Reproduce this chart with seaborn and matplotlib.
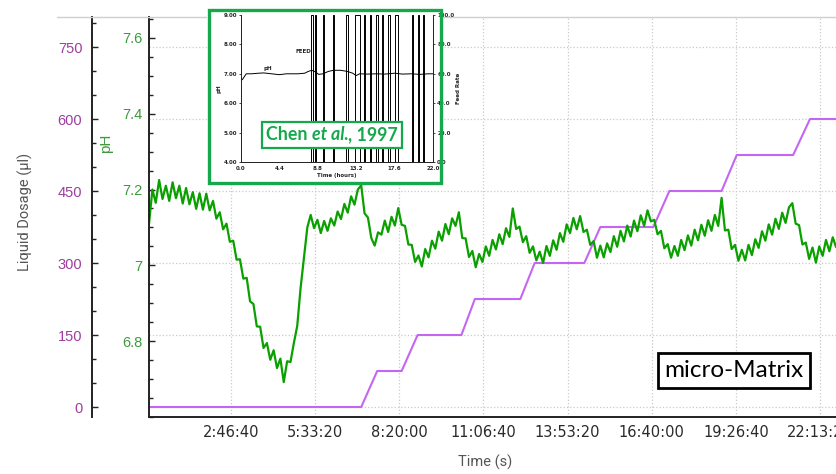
import numpy as np
import pandas as pd
import matplotlib
matplotlib.use("Agg")
import matplotlib.pyplot as plt
import seaborn as sns
from matplotlib.ticker import MultipleLocator, FixedLocator, FuncFormatter
from matplotlib.patches import Rectangle
from matplotlib.lines import Line2D
from matplotlib.offsetbox import TextArea, HPacker, AnnotationBbox

# pH log, one reading every 400 s starting at t = 300 s
PH_START_S = 300
PH_STEP_S = 400
ph_values = [
    7.110, 7.200, 7.165, 7.225, 7.175, 7.210, 7.170, 7.219, 7.177, 7.210,
    7.163, 7.204, 7.161, 7.193, 7.149, 7.190, 7.147, 7.189, 7.145, 7.170,
    7.123, 7.140, 7.095, 7.110, 7.062, 7.065, 7.015, 7.016, 6.965, 6.967,
    6.905, 6.898, 6.839, 6.838, 6.782, 6.795, 6.751, 6.776, 6.729, 6.754,
    6.692, 6.747, 6.745, 6.795, 6.840, 6.940, 7.020, 7.100, 7.133, 7.098,
    7.120, 7.085, 7.117, 7.091, 7.124, 7.105, 7.142, 7.122, 7.162, 7.139,
    7.182, 7.160, 7.200, 7.211, 7.137, 7.126, 7.072, 7.052, 7.087, 7.081,
    7.118, 7.088, 7.128, 7.105, 7.151, 7.107, 7.104, 7.055, 7.054, 7.009,
    7.026, 6.997, 7.043, 7.021, 7.065, 7.044, 7.089, 7.065, 7.109, 7.082,
    7.124, 7.104, 7.140, 7.072, 7.071, 7.022, 7.038, 6.995, 7.030, 7.009,
    7.050, 7.025, 7.067, 7.042, 7.082, 7.056, 7.098, 7.075, 7.150, 7.096,
    7.102, 7.061, 7.077, 7.033, 7.050, 7.013, 7.036, 7.006, 7.051, 7.025,
    7.066, 7.041, 7.085, 7.062, 7.108, 7.085, 7.125, 7.095, 7.130, 7.088,
    7.094, 7.054, 7.064, 7.020, 7.052, 7.021, 7.058, 7.035, 7.077, 7.049,
    7.091, 7.063, 7.105, 7.076, 7.118, 7.090, 7.132, 7.104, 7.145, 7.116,
    7.120, 7.082, 7.091, 7.045, 7.056, 7.020, 7.051, 7.025, 7.067, 7.040,
    7.079, 7.052, 7.094, 7.066, 7.107, 7.078, 7.119, 7.091, 7.133, 7.104,
    7.178, 7.092, 7.094, 7.043, 7.054, 7.012, 7.041, 7.013, 7.054, 7.027,
    7.069, 7.046, 7.090, 7.065, 7.108, 7.081, 7.123, 7.096, 7.139, 7.112,
    7.153, 7.164, 7.110, 7.106, 7.055, 7.060, 7.017, 7.047, 7.007, 7.050,
    7.025, 7.067, 7.037, 7.074, 7.048,
]

# cumulative liquid dosage (ul)
dose_time_s = [300, 25500, 27400, 30300, 32200, 37400, 39000, 44400, 46100,
               52000, 53900, 60200, 62100, 68300, 70100, 76800, 78800, 82000]
dose_ul = [0, 0, 75, 75, 150, 150, 225, 225, 300,
           300, 375, 375, 450, 450, 525, 525, 600, 600]

time_ticks_s = [10000, 20000, 30000, 40000, 50000, 60000, 70000, 80000]
ph_ticks = [6.8, 7.0, 7.2, 7.4, 7.6]
dose_ticks = [0, 150, 300, 450, 600, 750]

# inset: Chen et al., 1997
inset_hours = [0.0, 0.15, 0.6, 1.2, 2.0, 2.6, 3.5, 4.4, 5.2, 6.5, 7.3, 7.7, 8.1, 8.5,
               8.9, 9.4, 10.0, 10.6, 11.4, 12.2, 12.8, 13.2, 13.6, 14.5, 15.5, 16.5,
               17.6, 18.5, 19.5, 20.5, 21.5, 22.0]
inset_ph = [6.80, 6.80, 7.00, 7.00, 7.02, 7.03, 7.00, 6.97, 7.00, 7.00, 7.02, 7.08, 7.12, 7.07,
            6.98, 7.00, 7.08, 7.12, 7.12, 7.08, 7.02, 6.94, 7.00, 6.99, 7.00, 6.99,
            7.02, 6.99, 7.00, 6.98, 7.00, 7.00]
feed_on_h = [8.0, 8.45, 9.35, 10.5, 12.05, 13.1, 14.05, 14.75, 15.45, 16.1, 16.85, 17.7, 19.55, 20.25, 20.8]
feed_off_h = [8.2, 8.6, 9.55, 10.6, 12.25, 13.65, 14.25, 14.95, 15.65, 16.3, 17.05, 17.95, 19.75, 20.45, 21.0]
inset_xticks = [0.0, 4.4, 8.8, 13.2, 17.6, 22.0]

GREEN = "#0aa000"
PH_TXT = "#3c9a3c"
PURPLE_LINE = "#c466f2"
PURPLE_TXT = "#9e3d9e"
BOX_GREEN = "#16a84c"
SPINE = "#222222"

sns.set_style("white")
plt.rcParams["font.family"] = ["DejaVu Sans"]

W, H = 836, 474
fig = plt.figure(figsize=(W / 100, H / 100), dpi=100)

def fx(px):
    return px / W

def fy(py):
    return 1 - py / H

ax = fig.add_axes([fx(149), fy(417), fx(836 - 149), 400 / H])

ph_df = pd.DataFrame({
    "time": PH_START_S + PH_STEP_S * np.arange(len(ph_values)),
    "ph": ph_values,
})
dose_df = pd.DataFrame({"time": dose_time_s, "dose": dose_ul})

# dosage on the base axes (grid lives here), pH on the twin
sns.lineplot(data=dose_df, x="time", y="dose", ax=ax, color=PURPLE_LINE,
             linewidth=1.5, estimator=None, sort=False)
ax_ph = ax.twinx()
sns.lineplot(data=ph_df, x="time", y="ph", ax=ax_ph, color=GREEN,
             linewidth=1.6, estimator=None, sort=False)

ax.set_xlim(297, 81888)
ax.set_ylim(-20.8, 812.5)
ax_ph.set_ylim(6.6, 7.655)

ax.xaxis.set_major_locator(FixedLocator(time_ticks_s))
ax.xaxis.set_minor_locator(MultipleLocator(2000))
ax.xaxis.set_major_formatter(FuncFormatter(
    lambda v, p: f"{int(v) // 3600}:{int(v) % 3600 // 60:02d}:{int(v) % 60:02d}"))
ax.yaxis.set_major_locator(FixedLocator(dose_ticks))
ax.yaxis.set_minor_locator(MultipleLocator(50))
ax_ph.yaxis.set_major_locator(FixedLocator(ph_ticks))
ax_ph.yaxis.set_minor_locator(MultipleLocator(0.05))
ax_ph.yaxis.set_major_formatter(FuncFormatter(lambda v, p: f"{v:g}"))

ax.grid(True, which="major", axis="both", linestyle=":", color="#cacaca", linewidth=0.9)

for s in ["top", "right"]:
    ax.spines[s].set_visible(False)
    ax_ph.spines[s].set_visible(False)
ax_ph.spines["bottom"].set_visible(False)
ax.spines["left"].set_position(("axes", -57 / 687))
for s in ["left", "bottom"]:
    ax.spines[s].set_color(SPINE)
    ax.spines[s].set_linewidth(1.4)
ax_ph.spines["left"].set_visible(True)
ax_ph.spines["left"].set_color(SPINE)
ax_ph.spines["left"].set_linewidth(1.4)
ax_ph.yaxis.tick_left()
ax_ph.yaxis.set_label_position("left")

ax.tick_params(axis="x", which="major", direction="in", length=4, width=1, color=SPINE,
               labelsize=10.5, labelcolor="#2a2a2a", pad=5.5)
ax.tick_params(axis="x", which="minor", direction="in", length=2, width=1, color=SPINE)
ax.tick_params(axis="y", which="major", direction="in", length=4, width=1, color=SPINE,
               labelsize=10.5, labelcolor=PURPLE_TXT, pad=7)
ax.tick_params(axis="y", which="minor", direction="in", length=3, width=1, color=SPINE)
ax_ph.tick_params(axis="y", which="major", direction="in", length=4.5, width=1, color=SPINE,
                  labelsize=10.5, labelcolor=PH_TXT, pad=5, left=True, right=False,
                  labelleft=True, labelright=False)
ax_ph.tick_params(axis="y", which="minor", direction="in", length=3, width=1, color=SPINE,
                  left=True, right=False)
for lab in ax.get_yticklabels() + ax_ph.get_yticklabels():
    lab.set_fontfamily("Liberation Sans")

ax.set_xlabel("Time (s)", fontsize=10.5, color="#555555", family="Roboto")
ax.xaxis.set_label_coords((485 - 149) / 687, (417 - 455) / 400)
ax.set_ylabel("Liquid Dosage (\u00b5l)", fontsize=10.5, color="#555555", family="Roboto")
ax.yaxis.set_label_coords((33 - 149) / 687, (417 - 212) / 400)
ax_ph.set_ylabel("pH", fontsize=11, color=PH_TXT, family="Liberation Sans")
ax_ph.yaxis.set_label_coords((113 - 149) / 687, (417 - 143) / 400)

fig.add_artist(Line2D([fx(57), 1], [fy(16.5), fy(16.5)], transform=fig.transFigure,
                      color="#cfcfcf", linewidth=1))

fig.text(fx(734), fy(370.5), "micro-Matrix", fontsize=17.5, family="Lato", color="black",
         ha="center", va="center", zorder=8,
         bbox=dict(boxstyle="square,pad=0.27", facecolor="white", edgecolor="black", linewidth=2))

# ---- inset reproduced from Chen et al. (1997) ----
fig.add_artist(Rectangle((fx(207), fy(184)), fx(235), 176 / H, transform=fig.transFigure,
                         facecolor="white", edgecolor="none", zorder=3))
ins = fig.add_axes([fx(241), fy(162), fx(192), 147 / H], zorder=4)
ins_r = ins.twinx()
ins_r.set_zorder(4.5)
ins_r.patch.set_visible(False)

feed_t, feed_v = [0.0], [0.0]
for on, off in zip(feed_on_h, feed_off_h):
    feed_t += [on, on, off, off]
    feed_v += [0, 100, 100, 0]
feed_t.append(22.0)
feed_v.append(0)

sns.lineplot(x=inset_hours, y=inset_ph, ax=ins, color="black", linewidth=0.7,
             estimator=None, sort=False)
sns.lineplot(x=feed_t, y=feed_v, ax=ins_r, color="black", linewidth=0.7,
             estimator=None, sort=False)
ins.set_xlim(0, 22)
ins.set_ylim(4, 9)
ins_r.set_ylim(0, 100)
ins.xaxis.set_major_locator(FixedLocator(inset_xticks))
ins.xaxis.set_major_formatter(FuncFormatter(lambda v, p: f"{v:.1f}"))
ins.yaxis.set_major_locator(FixedLocator([4, 5, 6, 7, 8, 9]))
ins.yaxis.set_major_formatter(FuncFormatter(lambda v, p: f"{v:.2f}"))
ins_r.yaxis.set_major_locator(FixedLocator([0, 20, 40, 60, 80, 100]))
ins_r.yaxis.set_major_formatter(FuncFormatter(lambda v, p: f"{v:.1f}"))
for a in (ins, ins_r):
    a.spines["top"].set_visible(False)
    for s in a.spines.values():
        s.set_linewidth(0.7)
    a.tick_params(labelsize=4, length=1.5, width=0.6, pad=1.5)
    for lab in a.get_xticklabels() + a.get_yticklabels():
        lab.set_fontweight("bold")
ins.set_xlabel("Time (hours)", fontsize=4, fontweight="bold", labelpad=1.5)
ins.set_ylabel("pH", fontsize=4, fontweight="bold", labelpad=1.5)
ins_r.set_ylabel("Feed Rate", fontsize=4, fontweight="bold", labelpad=1.5)
ins.text(2.6, 7.12, "pH", fontsize=4, fontweight="bold")
ins.text(6.3, 7.72, "FEED", fontsize=4, fontweight="bold")

fig.add_artist(Rectangle((fx(208.5), fy(182.5)), fx(232), 173 / H, transform=fig.transFigure,
                         facecolor="none", edgecolor=BOX_GREEN, linewidth=2.4, zorder=6))

cite_props = dict(color=BOX_GREEN, fontweight="bold", fontsize=12.8, family="Lato")
cite = HPacker(children=[
    TextArea("Chen ", textprops=cite_props),
    TextArea("et al.", textprops=dict(cite_props, style="italic")),
    TextArea(", 1997", textprops=cite_props),
], align="baseline", pad=0, sep=0)
cite_box = AnnotationBbox(cite, (fx(332), fy(135)), xycoords="figure fraction",
                          frameon=True, pad=0.35, fontsize=10,
                          bboxprops=dict(edgecolor=BOX_GREEN, facecolor="white",
                                         linewidth=1.6, boxstyle="square"))
cite_box.set_zorder(7)
fig.add_artist(cite_box)

fig.savefig("out.png", dpi=100)
